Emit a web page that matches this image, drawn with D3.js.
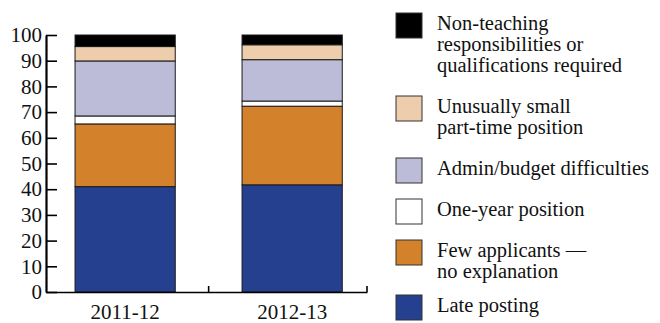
<!DOCTYPE html>
<html>
<head>
<meta charset="utf-8">
<script src="https://cdn.jsdelivr.net/npm/d3@7"></script>
<style>
  body { margin: 0; background: #fff; }
  svg text { font-family: "Liberation Serif", "DejaVu Serif", "Noto Serif", serif !important; fill: #111; }
</style>
</head>
<body>
<div id="chart"></div>
<script>
// categories (x axis)
const years = ['2011-12', '2012-13'];

// series, bottom to top of the stack (percent of searches)
const latePosting    = [41.0, 41.7];
const fewApplicants  = [24.4, 30.6];
const oneYear        = [3.1, 2.0];
const adminBudget    = [21.4, 16.1];
const smallPartTime  = [5.6, 5.8];
const nonTeaching    = [4.5, 3.8];

const seriesKeys = ['late', 'few', 'oneYear', 'admin', 'small', 'nonTeaching'];
const seriesColors = ['#25408e', '#d4812c', '#ffffff', '#bcbcd9', '#edcdab', '#000000'];

// legend is listed top to bottom (reverse of stacking order)
const legendLabels = [
  ['Non-teaching', 'responsibilities or', 'qualifications required'],
  ['Unusually small', 'part-time position'],
  ['Admin/budget difficulties'],
  ['One-year position'],
  ['Few applicants —', 'no explanation'],
  ['Late posting']
];

const yTicks = [0, 10, 20, 30, 40, 50, 60, 70, 80, 90, 100];

const FONT = '"Liberation Serif", "DejaVu Serif", serif';

class StackedBars {

  constructor(_config) {
    this.config = {
      parentElement: _config.parentElement,
      containerWidth: 660,
      containerHeight: 323,
      margin: { top: 35, bottom: 31, left: 46, right: 293 }
    };
    this.initVis();
  }

  initVis() {
    let vis = this;

    vis.width = vis.config.containerWidth - vis.config.margin.left - vis.config.margin.right;
    vis.height = vis.config.containerHeight - vis.config.margin.top - vis.config.margin.bottom;

    vis.svg = d3.select(vis.config.parentElement).append('svg')
      .attr('width', vis.config.containerWidth)
      .attr('height', vis.config.containerHeight)
      .attr('font-family', FONT);

    vis.chart = vis.svg.append('g')
      .attr('transform', `translate(${vis.config.margin.left}, ${vis.config.margin.top})`);

    // build rows for d3.stack
    const table = years.map((y, i) => ({
      year: y,
      late: latePosting[i],
      few: fewApplicants[i],
      oneYear: oneYear[i],
      admin: adminBudget[i],
      small: smallPartTime[i],
      nonTeaching: nonTeaching[i]
    }));
    vis.stacked = d3.stack().keys(seriesKeys)(table);

    vis.xScale = d3.scaleBand()
      .domain(years)
      .range([0, vis.width])
      .paddingInner(0.4)
      .paddingOuter(0.161)
      .align(0.54);

    vis.yScale = d3.scaleLinear()
      .domain([0, 100])
      .range([vis.height, 0]);

    vis.colorScale = d3.scaleOrdinal().domain(seriesKeys).range(seriesColors);

    vis.renderVis();
  }

  renderVis() {
    let vis = this;

    // bars
    vis.chart.append('g')
      .selectAll('g')
      .data(vis.stacked)
      .join('g')
        .attr('fill', d => vis.colorScale(d.key))
      .selectAll('rect')
      .data(d => d)
      .join('rect')
        .attr('x', d => vis.xScale(d.data.year))
        .attr('y', d => vis.yScale(d[1]))
        .attr('width', vis.xScale.bandwidth())
        .attr('height', d => vis.yScale(d[0]) - vis.yScale(d[1]))
        .attr('stroke', '#1a1a1a')
        .attr('stroke-width', 1);

    // y axis, ticks point inward
    const yAxis = d3.axisLeft(vis.yScale)
      .tickValues(yTicks)
      .tickSizeInner(-11)
      .tickSizeOuter(0)
      .tickPadding(4);

    const yAxisG = vis.chart.append('g').call(yAxis).attr('font-family', FONT);
    yAxisG.select('.domain').attr('stroke', '#000').attr('stroke-width', 2.2);
    yAxisG.selectAll('.tick line').attr('stroke', '#000').attr('stroke-width', 1.6);
    yAxisG.selectAll('.tick text')
      .attr('font-size', 21)
      .attr('fill', '#111');

    // x axis: labels under bars, small inward ticks at group boundaries
    const xAxis = d3.axisBottom(vis.xScale).tickSize(0).tickPadding(12);
    const xAxisG = vis.chart.append('g')
      .attr('transform', `translate(0, ${vis.height})`)
      .call(xAxis)
      .attr('font-family', FONT);
    xAxisG.select('.domain').attr('stroke', '#000').attr('stroke-width', 1.6);
    xAxisG.selectAll('.tick text')
      .attr('font-size', 21)
      .attr('fill', '#111');

    const step = vis.xScale.step();
    const gap = step * vis.xScale.paddingInner();
    const bounds = years.slice(1).map(y => vis.xScale(y) - gap / 2).concat([vis.width]);
    xAxisG.selectAll('.sep')
      .data(bounds)
      .join('line')
        .attr('class', 'sep')
        .attr('x1', d => d).attr('x2', d => d)
        .attr('y1', 0).attr('y2', -6)
        .attr('stroke', '#000')
        .attr('stroke-width', 1.6);

    // legend
    const legendColors = seriesColors.slice().reverse();
    const lineH = 21;
    const rowGaps = [20, 20, 20, 20, 13];
    let top = 13;
    const legend = vis.svg.append('g').attr('transform', 'translate(396, 0)');
    legendLabels.forEach((lines, i) => {
      const row = legend.append('g').attr('transform', `translate(0, ${top})`);
      row.append('rect')
        .attr('width', 26)
        .attr('height', 25)
        .attr('fill', legendColors[i])
        .attr('stroke', '#333')
        .attr('stroke-width', 1);
      const t = row.append('text')
        .attr('x', 41)
        .attr('y', 17)
        .attr('font-size', 20.5);
      lines.forEach((ln, j) => {
        t.append('tspan')
          .attr('x', 41)
          .attr('dy', j === 0 ? 0 : lineH)
          .text(ln);
      });
      top += lines.length * lineH + (rowGaps[i] || 0);
    });
  }
}

new StackedBars({ parentElement: '#chart' });
</script>
</body>
</html>
